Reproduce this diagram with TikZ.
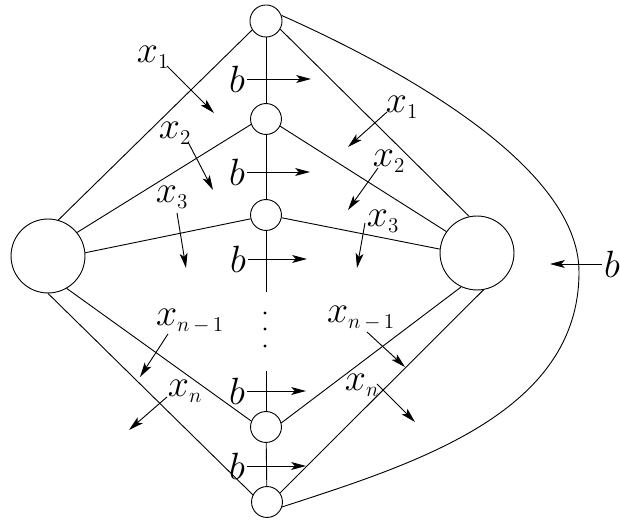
\RequirePackage{fix-cm}
\documentclass[tikz,border=0pt]{standalone}
\usetikzlibrary{arrows.meta}
\DeclareMathSizes{27}{27}{15}{11}
\begin{document}
\begin{tikzpicture}[x=0.025cm,y=-0.025cm,
  every path/.style={line width=0.65pt},
  vtx/.style={draw,circle,inner sep=0pt,minimum size=22pt},
  bigvtx/.style={draw,circle,inner sep=0pt,minimum size=52.6pt},
  lbl/.style={inner sep=1.5pt,font=\fontsize{27}{32}\selectfont},
  flow/.style={-{Stealth[length=10.5pt,width=5.6pt,inset=2.5pt]}}
]
\useasboundingbox (0,0) rectangle (620,523);
% vertices
\node[vtx,minimum size=22.8pt] (T) at (266,21) {};
\node[vtx] (N2) at (266,119) {};
\node[vtx] (N3) at (266,215) {};
\node[vtx] (Nn) at (266,427) {};
\node[vtx] (Bt) at (267,502) {};
\node[bigvtx] (L) at (48,256) {};
\node[bigvtx] (R) at (477,253) {};
% fan edges to L
\draw (T.213) -- (L.74);
\draw (N2.200) -- (L.39);
\draw (N3.194) -- (L.5);
\draw (Nn.158) -- (L.-60);
\draw (Bt.153) -- (L.-90);
% fan edges to R
\draw (T.-30) -- (R.102);
\draw (N2.-27) -- (R.145);
\draw (N3.-10) -- (R.174);
\draw (Nn.15) -- (R.-115);
\draw (Bt.35) -- (R.-80);
% central column
\coordinate (vtop) at (266,292);
\coordinate (vbot) at (266,371);
\draw (T) -- (N2);
\draw (N2) -- (N3);
\draw (N3) -- (vtop);
\draw (vbot) -- (Nn);
\draw (Nn) -- (Bt);
\fill (265,313) circle (1.1pt);
\fill (265,329) circle (1.1pt);
\fill (265,346) circle (1.1pt);
% big return arc
\coordinate (rc) at (579,272);
\draw (T.20) to[out=-24,in=90,looseness=0.72] (rc)
             to[out=-90,in=18,looseness=0.95] (Bt.-18);
% b flows
\node[lbl] (b1) at (237,79) {$b$};
\node[lbl] (b2) at (237,172) {$b$};
\node[lbl] (b3) at (238,259) {$b$};
\node[lbl] (b4) at (237,391) {$b$};
\node[lbl] (b5) at (237,466) {$b$};
\node[lbl] (bR) at (612,264) {$b$};
\coordinate (b1e) at (311,0);
\coordinate (b2e) at (310,0);
\coordinate (b3e) at (307,0);
\coordinate (b4e) at (306,0);
\coordinate (b5e) at (306,0);
\coordinate (bRe) at (550,0);
\draw[flow] (b1.east) -- (b1.east -| b1e);
\draw[flow] (b2.east) -- (b2.east -| b2e);
\draw[flow] (b3.east) -- (b3.east -| b3e);
\draw[flow] (b4.east) -- (b4.east -| b4e);
\draw[flow] (b5.east) -- (b5.east -| b5e);
\draw[flow] (bR.west) -- (bR.west -| bRe);
% left x labels
\node[lbl] (lx1) at (153,57) {$x_1$};
\node[lbl] (lx2) at (175,133) {$x_2$};
\node[lbl] (lx3) at (172,197) {$x_3$};
\node[lbl] (lxm) at (190,321) {$x_{n\,-\,1}$};
\node[lbl] (lxn) at (185,391) {$x_n$};
\coordinate (lx1s) at (167,66);  \coordinate (lx1e) at (214,113);
\coordinate (lx2s) at (188,142); \coordinate (lx2e) at (213,190);
\coordinate (lx3s) at (177,213); \coordinate (lx3e) at (186,268);
\coordinate (lxms) at (168,334); \coordinate (lxme) at (140,377);
\coordinate (lxns) at (167,397); \coordinate (lxne) at (129,430);
\draw[flow] (lx1s) -- (lx1e);
\draw[flow] (lx2s) -- (lx2e);
\draw[flow] (lx3s) -- (lx3e);
\draw[flow] (lxms) -- (lxme);
\draw[flow] (lxns) -- (lxne);
% right x labels
\node[lbl] (rx1) at (402,107) {$x_1$};
\node[lbl] (rx2) at (389,161) {$x_2$};
\node[lbl] (rx3) at (383,221) {$x_3$};
\node[lbl] (rxm) at (361,318) {$x_{n\,-\,1}$};
\node[lbl] (rxn) at (362,385) {$x_n$};
\coordinate (rx1s) at (387,112); \coordinate (rx1e) at (348,147);
\coordinate (rx2s) at (378,168); \coordinate (rx2e) at (348,210);
\coordinate (rx3s) at (365,223); \coordinate (rx3e) at (357,268);
\coordinate (rxms) at (367,332); \coordinate (rxme) at (405,367);
\coordinate (rxns) at (377,384); \coordinate (rxne) at (415,422);
\draw[flow] (rx1s) -- (rx1e);
\draw[flow] (rx2s) -- (rx2e);
\draw[flow] (rx3s) -- (rx3e);
\draw[flow] (rxms) -- (rxme);
\draw[flow] (rxns) -- (rxne);
\end{tikzpicture}
\end{document}
